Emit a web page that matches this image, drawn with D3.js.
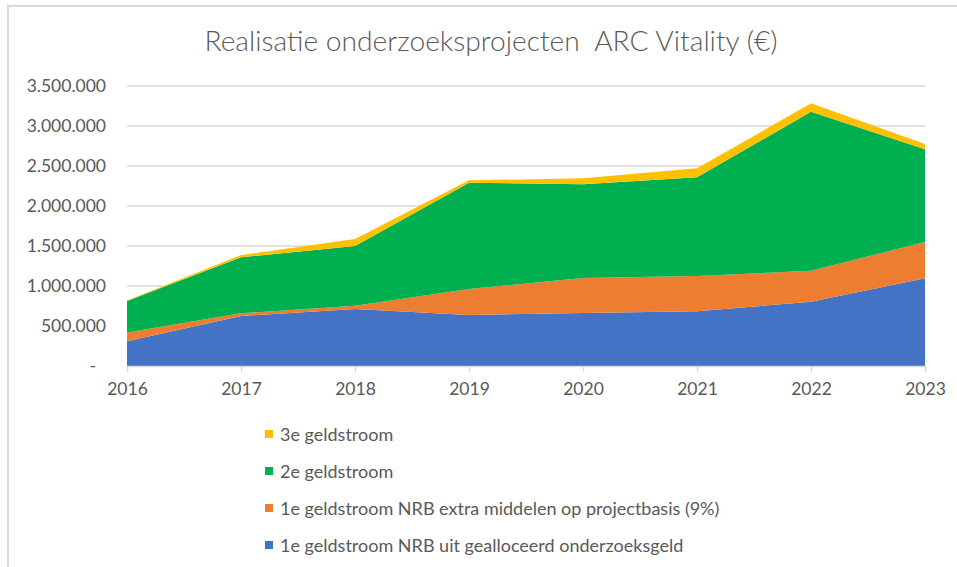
<!DOCTYPE html>
<html>
<head>
<meta charset="utf-8">
<script src="https://cdn.jsdelivr.net/npm/d3@7"></script>
<style>
  body { margin: 0; background: #fff; }
  text { font-family: Lato, "Open Sans", sans-serif; fill: #595959; }
</style>
</head>
<body>
<script>
//chart values
var years = [2016, 2017, 2018, 2019, 2020, 2021, 2022, 2023];
var eersteAlloc = [310000, 625000, 712000, 637000, 662000, 683000, 804000, 1096000];
var eersteExtra = [108000, 33000, 42000, 325000, 438000, 442000, 387000, 454000];
var tweede = [394000, 700000, 746000, 1330000, 1171000, 1233000, 1988000, 1158000];
var derde = [6000, 29000, 87000, 29000, 75000, 113000, 104000, 67000];
var yTicks = [0, 500000, 1000000, 1500000, 2000000, 2500000, 3000000, 3500000];

var seriesNames = ["1e geldstroom NRB uit gealloceerd onderzoeksgeld",
    "1e geldstroom NRB extra middelen op projectbasis (9%)",
    "2e geldstroom",
    "3e geldstroom"];
var colors = ["#4472C4", "#ED7D31", "#00B050", "#FFC000"];

var width = 957,
    height = 567;

var svg = d3.select("body")
    .append("svg")
    .attr("width", width)
    .attr("height", height);

//chart frame (only left and top edge are visible)
svg.append("path")
    .attr("d", "M8,567 L8,6 L957,6")
    .attr("fill", "none")
    .attr("stroke", "#d9d9d9")
    .attr("stroke-width", 2);

//title (keep the double space)
svg.append("text")
    .attr("x", 491)
    .attr("y", 51)
    .attr("text-anchor", "middle")
    .style("font-size", "28.2px")
    .style("font-weight", 300)
    .style("white-space", "pre")
    .text("Realisatie onderzoeksprojecten  ARC Vitality (€)");

var x = d3.scalePoint()
    .domain(years)
    .range([127, 925]);

var y = d3.scaleLinear()
    .domain([0, 3500000])
    .range([366, 86]);

//gridlines
svg.append("g")
    .selectAll("line")
    .data(yTicks.slice(1))
    .enter()
    .append("line")
    .attr("x1", 127)
    .attr("x2", 925)
    .attr("y1", function(d){ return y(d); })
    .attr("y2", function(d){ return y(d); })
    .attr("stroke", "#d9d9d9")
    .attr("stroke-width", 1.3);

//build table for the stack
var table = years.map(function(yr, i){
    return { year: yr, s0: eersteAlloc[i], s1: eersteExtra[i], s2: tweede[i], s3: derde[i] };
});

var stack = d3.stack().keys(["s0", "s1", "s2", "s3"]);
var layers = stack(table);

var area = d3.area()
    .x(function(d){ return x(d.data.year); })
    .y0(function(d){ return y(d[0]); })
    .y1(function(d){ return y(d[1]); });

svg.append("g")
    .selectAll("path")
    .data(layers)
    .enter()
    .append("path")
    .attr("d", area)
    .attr("fill", function(d, i){ return colors[i]; });

//x axis
var xAxis = d3.axisBottom(x).tickSize(6).tickPadding(11);
var gx = svg.append("g")
    .attr("transform", "translate(0,366)")
    .call(xAxis);
gx.select(".domain").attr("stroke", "#d9d9d9").attr("stroke-width", 1.3);
gx.selectAll(".tick line").attr("stroke", "#d9d9d9").attr("stroke-width", 1.3);
gx.selectAll("text").style("font-size", "17.5px").attr("fill", "#595959");

//y axis labels
var fmt = d3.formatLocale({ decimal: ",", thousands: ".", grouping: [3], currency: ["€", ""] }).format(",");
var yAxis = d3.axisLeft(y)
    .tickValues(yTicks)
    .tickSize(0)
    .tickPadding(21)
    .tickFormat(function(d){ return d === 0 ? "-" : fmt(d); });
var gy = svg.append("g")
    .attr("transform", "translate(127,0)")
    .call(yAxis);
gy.select(".domain").remove();
gy.selectAll("text").style("font-size", "17.5px").attr("fill", "#595959");
gy.selectAll("text").filter(function(d){ return d === 0; }).attr("x", -31);

//legend, top to bottom
var legendOrder = [3, 2, 1, 0];
var legend = svg.append("g")
    .selectAll("g")
    .data(legendOrder)
    .enter()
    .append("g")
    .attr("transform", function(d, i){ return "translate(265," + (434 + i * 37) + ")"; });

legend.append("rect")
    .attr("x", 0)
    .attr("y", -4)
    .attr("width", 8)
    .attr("height", 8)
    .attr("fill", function(d){ return colors[d]; });

legend.append("text")
    .attr("x", 15)
    .attr("y", 6.5)
    .style("font-size", "18px")
    .text(function(d){ return seriesNames[d]; });
</script>
</body>
</html>
